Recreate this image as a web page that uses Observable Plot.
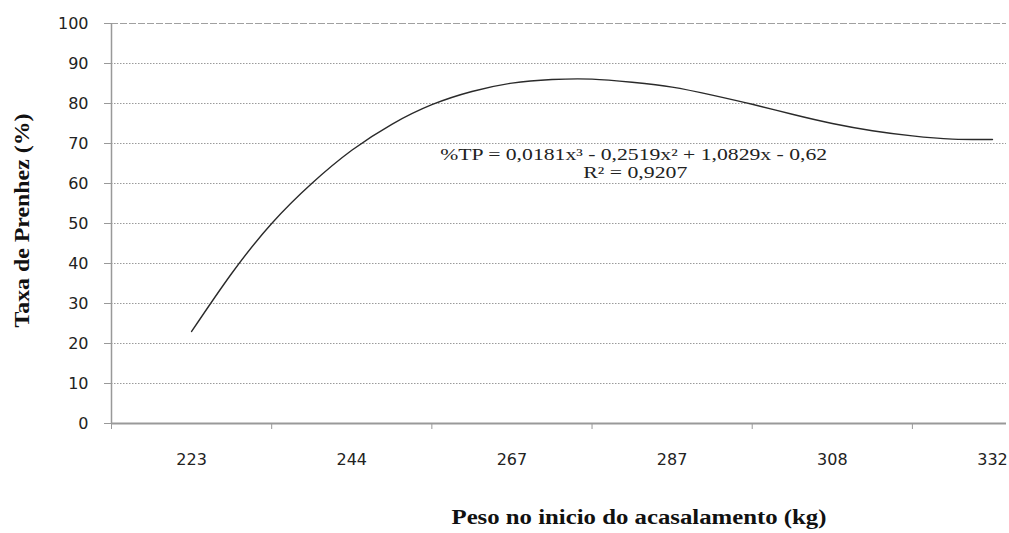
<!DOCTYPE html>
<html>
<head>
<meta charset="utf-8">
<script src="https://cdn.jsdelivr.net/npm/d3@7"></script>
<script src="https://cdn.jsdelivr.net/npm/@observablehq/plot@0.6"></script>
<style>
  html, body { margin: 0; padding: 0; background: #fff; }
  #chart svg { display: block; }
</style>
</head>
<body>
<div id="chart"></div>
<script>
// Category labels (x axis: Peso no início do acasalamento, kg)
const categories = ["223", "244", "267", "287", "308", "332"];
// Fitted curve: position in category units (1 = 223 … 6 = 332)
const curvePos = [1.0, 1.25, 1.5, 1.75, 2.0, 2.25, 2.5, 2.75, 3.0, 3.25, 3.5, 3.75, 4.0, 4.25, 4.5, 4.75, 5.0, 5.25, 5.5, 5.75, 6.0];
// Taxa de prenhez (%) along the curve
const curveVal = [23, 37.5, 50, 60, 68.3, 74.8, 79.7, 83, 85.1, 86, 86.1, 85.3, 84.1, 82.1, 79.8, 77.3, 75.0, 73.2, 71.9, 71.1, 71.0];
// Y tick values
const yTicks = [0, 10, 20, 30, 40, 50, 60, 70, 80, 90, 100];
const equation = "%TP = 0,0181x³ - 0,2519x² + 1,0829x - 0,62";
const r2 = "R² = 0,9207";
const xTitle = "Peso no inicio do acasalamento (kg)";
const yTitle = "Taxa de Prenhez (%)";

const curve = curvePos.map((p, i) => ({pos: p, val: curveVal[i]}));
const boundaries = categories.map((c, i) => i + 0.5);

const chart = Plot.plot({
  width: 1009,
  height: 533,
  marginLeft: 111,
  marginRight: 3,
  marginTop: 23,
  marginBottom: 110,
  style: {background: "#fff", color: "#222"},
  x: {domain: [0.5, 6.0875], axis: null},
  y: {domain: [0, 100], axis: null},
  marks: [
    Plot.gridY(yTicks.filter(d => d > 0 && d < 100), {stroke: "#9a9a9a", strokeOpacity: 1, strokeDasharray: "1.5,1.5", strokeWidth: 1}),
    Plot.ruleY([100], {stroke: "#a0a0a0", strokeDasharray: "7,2", strokeWidth: 1}),
    Plot.axisY(yTicks, {tickSize: 7, tickPadding: 16, stroke: "#999", fontSize: 16, fontFamily: "DejaVu Sans", fill: "#222", label: null}),
    Plot.axisX([1, 2, 3, 4, 5, 6], {tickSize: 0, tickPadding: 30, tickFormat: d => categories[d - 1], fontSize: 16, fontFamily: "DejaVu Sans", fill: "#222", label: null}),
    Plot.axisX(boundaries, {tickSize: 6, tickFormat: () => "", stroke: "#999", label: null}),
    Plot.ruleY([0], {stroke: "#999", strokeWidth: 2}),
    Plot.ruleX([0.5], {stroke: "#999", strokeWidth: 1.5}),
    Plot.line(curve, {x: "pos", y: "val", curve: "natural", stroke: "#2a2a2a", strokeWidth: 1.4}),
    Plot.text([equation], {x: 3.76, y: 67.1, text: d => d, fontSize: 16, fontFamily: "Liberation Serif", fill: "#222"}),
    Plot.text([r2], {x: 3.77, y: 62.6, text: d => d, fontSize: 16, fontFamily: "Liberation Serif", fill: "#222"}),
    Plot.text([xTitle], {frameAnchor: "bottom", dx: 80, dy: 100, text: d => d, fontSize: 20, fontWeight: "bold", fontFamily: "Liberation Serif", fill: "#111"}),
    Plot.text([yTitle], {frameAnchor: "left", textAnchor: "middle", dx: -89, dy: -3, rotate: -90, text: d => d, fontSize: 20, fontWeight: "bold", fontFamily: "Liberation Serif", fill: "#111"})
  ]
});
// stretch texts to the widths seen in the reference
const widths = new Map([[equation, 387], [r2, 104], [xTitle, 375], [yTitle, 214]]);
d3.select(chart).selectAll("text").each(function() {
  const w = widths.get(this.textContent);
  if (w) {
    this.setAttribute("textLength", w);
    this.setAttribute("lengthAdjust", "spacingAndGlyphs");
  }
});
document.getElementById("chart").appendChild(chart);
</script>
</body>
</html>
